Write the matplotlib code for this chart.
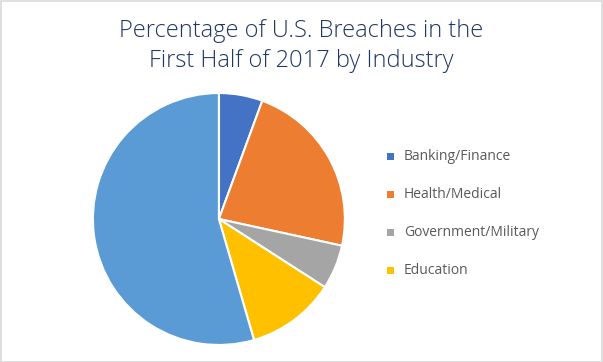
import matplotlib
matplotlib.use("Agg")
import matplotlib.pyplot as plt
from matplotlib.patches import Rectangle

categories = ["Banking/Finance", "Health/Medical", "Government/Military", "Education", "Other"]
values = [5.6, 22.8, 5.7, 11.4, 54.5]
colors = ["#4472C4", "#ED7D31", "#A5A5A5", "#FFC000", "#5B9BD5"]
legend_labels = categories[:4]

plt.rcParams['font.family'] = ['Open Sans', 'DejaVu Sans']

fig = plt.figure(figsize=(6.03, 3.62), dpi=100)
fig.patch.set_facecolor("white")
fig.patches.append(Rectangle((0.001, 0.001), 0.997, 0.996, transform=fig.transFigure,
                             fill=False, edgecolor="#D9D9D9", linewidth=1.2))

ax = fig.add_axes([0.154, 0.047, 0.418, 0.696])
ax.pie(values, colors=colors, startangle=90, counterclock=False,
       wedgeprops=dict(edgecolor="white", linewidth=1.5))
ax.set_xlim(-1, 1)
ax.set_ylim(-1, 1)
ax.set_aspect("equal")
ax.axis("off")

fig.text(0.5, 0.915, "Percentage of U.S. Breaches in the", ha="center", va="center",
         fontsize=17, color="#1F3864", fontweight="light")
fig.text(0.5, 0.832, "First Half of 2017 by Industry", ha="center", va="center",
         fontsize=17, color="#1F3864", fontweight="light")

ys = [156, 194, 232, 270]
for lab, c, y in zip(legend_labels, colors, ys):
    yf = 1 - y / 362
    fig.patches.append(Rectangle((387 / 603, yf - 3.5 / 362), 7 / 603, 7 / 362,
                                 transform=fig.transFigure, facecolor=c, edgecolor="none"))
    fig.text(404 / 603, yf, lab, ha="left", va="center", fontsize=10, color="#595959")

fig.savefig("out.png", dpi=100, facecolor="white")
